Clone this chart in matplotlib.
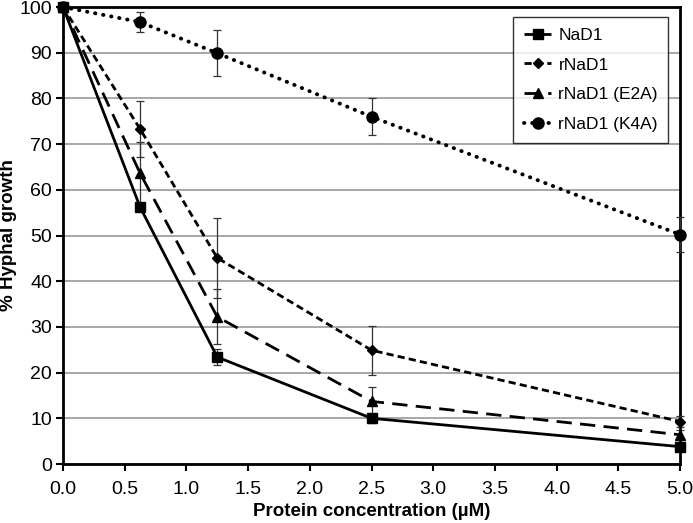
import matplotlib
matplotlib.use("Agg")
import matplotlib.pyplot as plt

plt.rcParams['font.family'] = ['Liberation Sans', 'DejaVu Sans']

# Data
conc = [0.0, 0.625, 1.25, 2.5, 5.0]

nad1 = [100, 56.2, 23.4, 10.0, 3.8]
nad1_err = [0, 0.8, 1.8, 1.0, 0.8]

rnad1 = [100, 73.3, 45.1, 24.9, 9.3]
rnad1_err = [0, 6.1, 8.7, 5.4, 1.2]

rnad1_e2a = [100, 63.6, 32.2, 13.7, 6.4]
rnad1_e2a_err = [0, 6.8, 6.0, 3.1, 1.0]

rnad1_k4a = [100, 96.7, 89.9, 76.0, 50.2]
rnad1_k4a_err = [0, 2.2, 5.0, 4.0, 3.9]

series = [
    ('NaD1', nad1, nad1_err, '-', 's', 6.5, 2.0),
    ('rNaD1', rnad1, rnad1_err, (0, (2.6, 1.5)), 'D', 5.5, 2.0),
    ('rNaD1 (E2A)', rnad1_e2a, rnad1_e2a_err, (0, (5.5, 3)), '^', 7, 2.0),
    ('rNaD1 (K4A)', rnad1_k4a, rnad1_k4a_err, (0, (0.1, 2.0)), 'o', 8, 2.8),
]

fig = plt.figure(figsize=(6.93, 5.23), dpi=100)
ax = fig.add_axes([0.0909, 0.1128, 0.8904, 0.8738])

for label, vals, err, ls, mk, ms, lw in series:
    ax.errorbar(conc, vals, yerr=err, fmt='none', ecolor='#333333',
                elinewidth=0.9, capsize=3, capthick=0.9, zorder=3, clip_on=False)
    dash_cap = 'round' if mk == 'o' else 'butt'
    ax.plot(conc, vals, color='black', linestyle=ls, linewidth=lw,
            marker=mk, markersize=ms, label=label, zorder=4, clip_on=False,
            dash_capstyle=dash_cap, solid_capstyle='butt')

ax.set_xlim(0, 5.0)
ax.set_ylim(0, 100)
ax.set_xticks([i * 0.5 for i in range(11)])
ax.set_xticklabels([f'{i * 0.5:.1f}' for i in range(11)])
ax.set_yticks(range(0, 101, 10))

ax.yaxis.grid(True, color='#a0a0a0', linewidth=1.3)
ax.set_axisbelow(True)

for sp in ax.spines.values():
    sp.set_linewidth(2)
    sp.set_color('black')

ax.tick_params(axis='both', direction='out', length=5, width=1.5,
               labelsize=14, colors='black', pad=3)
ax.tick_params(axis='x', pad=7)

ax.set_xlabel('Protein concentration (µM)', fontsize=13.5, fontweight='bold', labelpad=4)
ax.set_ylabel('% Hyphal growth', fontsize=13.5, fontweight='bold')
ax.yaxis.set_label_coords(-0.075, 0.5)

leg = ax.legend(loc='upper right', bbox_to_anchor=(0.981, 0.978), borderaxespad=0,
                fontsize=12.5, frameon=True, fancybox=False, handlelength=1.6,
                borderpad=0.6, labelspacing=0.85, handletextpad=0.4)
leg.get_frame().set_edgecolor('black')
leg.get_frame().set_linewidth(1.0)

plt.savefig('out.png', dpi=100)
plt.close()
